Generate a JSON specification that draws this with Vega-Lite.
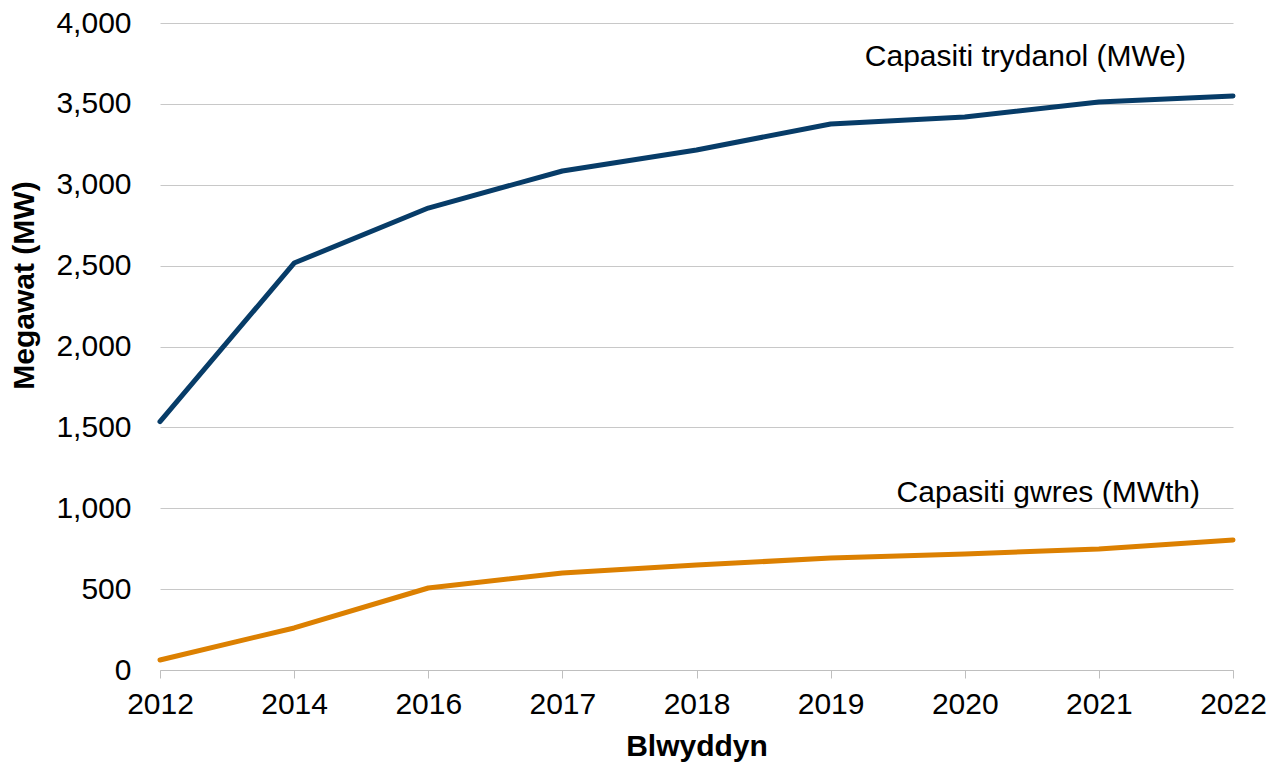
{
  "$schema": "https://vega.github.io/schema/vega-lite/v6.json",
  "width": 1073,
  "height": 647,
  "autosize": {"type": "none"},
  "padding": {"left": 160, "top": 23, "right": 46, "bottom": 96},
  "background": "white",
  "config": {
    "view": {"stroke": null},
    "font": "Liberation Sans",
    "axis": {"labelFont": "Liberation Sans", "titleFont": "Liberation Sans", "labelColor": "#000000", "titleColor": "#000000"}
  },
  "data": {
    "values": [
      {"Blwyddyn": "2012", "Cyfres": "Capasiti trydanol (MWe)", "Megawat": 1535},
      {"Blwyddyn": "2014", "Cyfres": "Capasiti trydanol (MWe)", "Megawat": 2516},
      {"Blwyddyn": "2016", "Cyfres": "Capasiti trydanol (MWe)", "Megawat": 2856},
      {"Blwyddyn": "2017", "Cyfres": "Capasiti trydanol (MWe)", "Megawat": 3085},
      {"Blwyddyn": "2018", "Cyfres": "Capasiti trydanol (MWe)", "Megawat": 3215},
      {"Blwyddyn": "2019", "Cyfres": "Capasiti trydanol (MWe)", "Megawat": 3376},
      {"Blwyddyn": "2020", "Cyfres": "Capasiti trydanol (MWe)", "Megawat": 3419},
      {"Blwyddyn": "2021", "Cyfres": "Capasiti trydanol (MWe)", "Megawat": 3512},
      {"Blwyddyn": "2022", "Cyfres": "Capasiti trydanol (MWe)", "Megawat": 3549},
      {"Blwyddyn": "2012", "Cyfres": "Capasiti gwres (MWth)", "Megawat": 62},
      {"Blwyddyn": "2014", "Cyfres": "Capasiti gwres (MWth)", "Megawat": 260},
      {"Blwyddyn": "2016", "Cyfres": "Capasiti gwres (MWth)", "Megawat": 507},
      {"Blwyddyn": "2017", "Cyfres": "Capasiti gwres (MWth)", "Megawat": 600},
      {"Blwyddyn": "2018", "Cyfres": "Capasiti gwres (MWth)", "Megawat": 649},
      {"Blwyddyn": "2019", "Cyfres": "Capasiti gwres (MWth)", "Megawat": 692},
      {"Blwyddyn": "2020", "Cyfres": "Capasiti gwres (MWth)", "Megawat": 717},
      {"Blwyddyn": "2021", "Cyfres": "Capasiti gwres (MWth)", "Megawat": 748},
      {"Blwyddyn": "2022", "Cyfres": "Capasiti gwres (MWth)", "Megawat": 804}
    ]
  },
  "encoding": {
    "x": {
      "field": "Blwyddyn",
      "type": "ordinal",
      "scale": {"type": "point", "padding": 0},
      "axis": {
        "title": "Blwyddyn",
        "titleFontSize": 30,
        "titleFontWeight": "bold",
        "titlePadding": 12,
        "labelFontSize": 30,
        "labelAngle": 0,
        "labelPadding": 11,
        "tickSize": 8,
        "tickColor": "#bfbfbf",
        "domainColor": "#bfbfbf",
        "grid": false
      }
    },
    "y": {
      "field": "Megawat",
      "type": "quantitative",
      "scale": {"domain": [0, 4000], "nice": false},
      "axis": {
        "title": "Megawat (MW)",
        "titleFontSize": 30,
        "titleFontWeight": "bold",
        "titlePadding": 16,
        "titleY": 262,
        "labelFontSize": 30,
        "labelPadding": 29,
        "values": [0, 500, 1000, 1500, 2000, 2500, 3000, 3500, 4000],
        "format": ",.0f",
        "ticks": false,
        "tickSize": 0,
        "domain": false,
        "grid": true,
        "gridColor": "#c8c8c8",
        "gridWidth": 1
      }
    }
  },
  "layer": [
    {
      "mark": {"type": "line", "strokeWidth": 5, "strokeCap": "round", "strokeJoin": "round"},
      "encoding": {
        "color": {
          "field": "Cyfres",
          "type": "nominal",
          "scale": {"domain": ["Capasiti trydanol (MWe)", "Capasiti gwres (MWth)"], "range": ["#073c68", "#dc8001"]},
          "legend": null
        }
      }
    },
    {
      "transform": [{"filter": "datum.Blwyddyn == '2022' && datum.Cyfres == 'Capasiti trydanol (MWe)'"}],
      "mark": {"type": "text", "align": "right", "baseline": "middle", "dx": -47, "dy": -39, "fontSize": 30, "color": "#000000"},
      "encoding": {"text": {"field": "Cyfres"}}
    },
    {
      "transform": [{"filter": "datum.Blwyddyn == '2022' && datum.Cyfres == 'Capasiti gwres (MWth)'"}],
      "mark": {"type": "text", "align": "right", "baseline": "middle", "dx": -33, "dy": -47, "fontSize": 30, "color": "#000000"},
      "encoding": {"text": {"field": "Cyfres"}}
    }
  ]
}
